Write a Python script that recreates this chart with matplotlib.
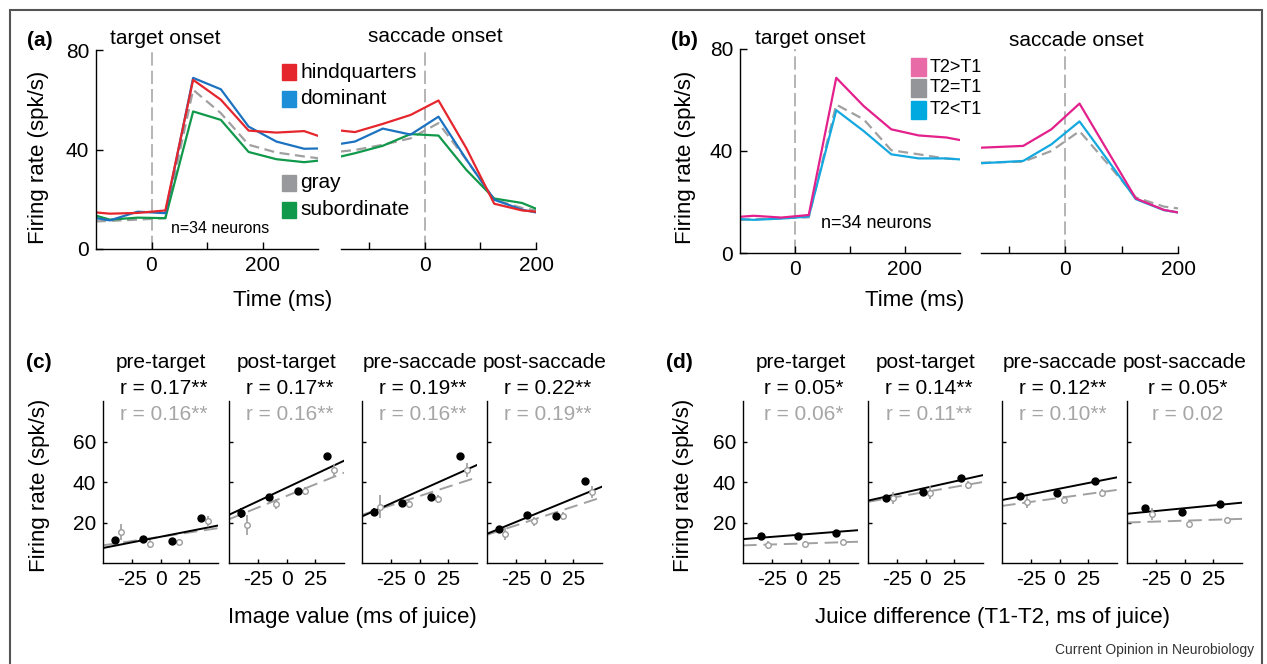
# Firing-rate figure: time courses (a, b) and value regressions (c, d)
import matplotlib
matplotlib.use('Agg')
import matplotlib.pyplot as plt
from matplotlib.patches import Rectangle

plt.rcParams['font.family'] = ['Liberation Sans', 'DejaVu Sans']

# ---------------- data ----------------
# time bins (ms) aligned on target onset / saccade onset
t_target = [-100, -75, -25, 25, 75, 125, 175, 225, 275, 300]
t_sacc_a = [-150, -125, -75, -25, 25, 75, 125, 175, 200]
t_sacc_b = [-150, -75, -25, 25, 75, 125, 175, 200]

# panel (a): image categories
hind_target = [14.7, 14.2, 14.5, 15.5, 68.0, 60.0, 47.6, 46.8, 47.4, 45.5]
dom_target = [12.4, 11.5, 15.0, 14.4, 68.8, 64.2, 49.2, 43.2, 40.3, 40.4]
gray_target = [11.1, 11.3, 11.8, 12.4, 64.0, 54.6, 41.9, 38.8, 37.2, 36.5]
sub_target = [13.4, 11.8, 12.6, 12.4, 55.3, 51.9, 39.0, 36.1, 34.9, 35.5]
hind_sacc = [47.6, 47.0, 50.3, 53.9, 59.7, 40.5, 18.2, 15.5, 15.0]
dom_sacc = [42.3, 43.2, 48.4, 46.0, 53.2, 36.0, 19.8, 15.8, 14.7]
gray_sacc = [39.2, 39.8, 41.9, 44.5, 50.6, 35.9, 19.8, 16.5, 15.5]
sub_sacc = [37.2, 38.5, 41.5, 46.2, 45.6, 31.8, 20.3, 18.5, 16.2]

# panel (b): juice comparison
big_target = [14.2, 14.6, 13.9, 14.9, 68.7, 57.6, 48.5, 46.1, 45.3, 44.3]
eq_target = [13.0, 13.2, 13.6, 14.0, 58.2, 52.4, 40.3, 38.7, 37.0, 36.7]
small_target = [13.3, 13.0, 13.5, 14.3, 56.0, 47.8, 38.7, 37.1, 37.1, 36.7]
big_sacc = [41.3, 42.0, 48.5, 58.6, 40.0, 21.4, 16.9, 15.9]
eq_sacc = [35.4, 35.8, 40.0, 47.8, 35.0, 21.8, 18.2, 17.5]
small_sacc = [35.2, 36.1, 42.6, 51.6, 36.5, 21.1, 16.8, 15.9]

epochs = ['pre-target', 'post-target', 'pre-saccade', 'post-saccade']
fit_x = [-50, 50]

# panel (c): image value
c_x_black = [-40, -15, 10, 35]
c_x_gray = [-34, -9, 16, 41]
c_black = [[11.5, 12.0, 11.0, 22.1], [24.6, 32.5, 35.7, 52.8],
           [25.4, 29.8, 32.8, 52.8], [16.9, 23.8, 23.3, 40.5]]
c_black_err = [[1, 1, 1, 1], [2.5, 1, 1, 1], [2, 1, 1, 1], [1, 1, 1, 1]]
c_gray = [[15.2, 9.5, 10.2, 20.5], [18.9, 29.2, 35.6, 45.9],
          [27.9, 29.2, 31.8, 45.9], [14.4, 20.5, 23.3, 34.9]]
c_gray_err = [[4, 2, 1.5, 2.5], [5, 2.5, 2, 3], [5.5, 2, 2, 3.5], [3, 2, 2, 3]]
c_fit_black = [[7.4, 18.5], [23.8, 50.5], [23.0, 48.4], [14.4, 37.7]]
c_fit_gray = [[8.7, 17.2], [21.6, 44.6], [23.8, 42.3], [13.9, 32.5]]
c_r_black = ['r = 0.17**', 'r = 0.17**', 'r = 0.19**', 'r = 0.22**']
c_r_gray = ['r = 0.16**', 'r = 0.16**', 'r = 0.16**', 'r = 0.19**']

# panel (d): juice difference
d_x_black = [-34, -2, 31]
d_x_gray = [-28, 4, 37]
d_black = [[13.1, 13.3, 14.9], [32.0, 35.2, 42.1], [33.1, 34.4, 40.7], [27.4, 25.2, 29.2]]
d_black_err = [[1, 1, 1], [1, 1, 1], [1, 1, 1], [1, 1, 1]]
d_gray = [[8.7, 9.3, 10.2], [32.0, 34.8, 38.4], [30.0, 31.1, 34.4], [24.3, 19.2, 21.3]]
d_gray_err = [[2, 1.5, 1.5], [3, 3, 2], [3, 2, 2], [3, 1.5, 1.5]]
d_fit_black = [[11.8, 16.2], [30.8, 43.4], [31.1, 42.3], [24.3, 29.8]]
d_fit_gray = [[8.7, 10.5], [30.2, 40.0], [28.2, 36.1], [20.0, 21.8]]
d_r_black = ['r = 0.05*', 'r = 0.14**', 'r = 0.12**', 'r = 0.05*']
d_r_gray = ['r = 0.06*', 'r = 0.11**', 'r = 0.10**', 'r = 0.02']

# colours
RED, BLUE, GREEN, GRAY = '#e5262d', '#1b72c0', '#10994a', '#a0a0a0'
PINK, PINK_SQ, CYAN = '#e3208b', '#e86aa6', '#14a8e0'
DOT_GRAY = '#9c9c9c'

W, H = 1267, 664
fig = plt.figure(figsize=(W / 100, H / 100), dpi=100)


def add_ax(x0, x1, y0, y1):
    # axes box given in pixels of the reference picture
    return fig.add_axes([x0 / W, 1 - y1 / H, (x1 - x0) / W, (y1 - y0) / H])


def ftext(x, y, s, **kw):
    fig.text(x / W, 1 - y / H, s, **kw)


def style(ax, ticklen):
    for side in ['top', 'right']:
        ax.spines[side].set_visible(False)
    for side in ['left', 'bottom']:
        ax.spines[side].set_linewidth(1.0)
    ax.tick_params(direction='in', length=ticklen, width=1.0, labelsize=15, pad=5)
    ax.set_facecolor('none')


def square(x, y, w, h, color):
    fig.patches.append(Rectangle((x / W, 1 - (y + h / 2) / H), w / W, h / H,
                                 transform=fig.transFigure, color=color))


# outer frame
fig.patches.append(Rectangle((10 / W, -0.02), 1252 / W, 1 - 10 / H + 0.02,
                             transform=fig.transFigure, fill=False,
                             edgecolor='#555555', linewidth=1.5))


def time_panel(box_l, box_r, y0, y1, t_l, t_r, curves):
    axl = add_ax(box_l[0], box_l[1], y0, y1)
    axr = add_ax(box_r[0], box_r[1], y0, y1)
    for yl, yr, col, dashed in curves:
        ls = (0, (4.5, 2.5)) if dashed else '-'
        axl.plot(t_l, yl, color=col, lw=1.6, linestyle=ls)
        axr.plot(t_r, yr, color=col, lw=1.6, linestyle=ls)
    for ax in (axl, axr):
        style(ax, 5)
        ax.set_ylim(0, 80)
        ax.axvline(0, color='#a8a8a8', lw=1.2, linestyle=(0, (8, 3)), zorder=0)
    axl.set_xlim(-100, 300)
    axl.set_xticks([0, 100, 200])
    axl.set_xticklabels(['0', '', '200'])
    axl.set_yticks([0, 40, 80])
    axr.set_xlim(-150, 200)
    axr.set_xticks([-100, 0, 100, 200])
    axr.set_xticklabels(['', '0', '', '200'])
    axr.spines['left'].set_visible(False)
    axr.set_yticks([])
    return axl, axr


# ---------------- panel (a) ----------------
time_panel((96, 318), (341, 536), 50, 249, t_target, t_sacc_a,
           [(gray_target, gray_sacc, GRAY, True),
            (sub_target, sub_sacc, GREEN, False),
            (dom_target, dom_sacc, BLUE, False),
            (hind_target, hind_sacc, RED, False)])
ftext(27, 40, '(a)', fontsize=15, fontweight='bold', va='center')
ftext(165, 39, 'target onset', fontsize=15, ha='center', va='center')
ftext(435, 36, 'saccade onset', fontsize=15, ha='center', va='center')
ftext(39, 157, 'Firing rate (spk/s)', fontsize=16, rotation=90, ha='center', va='center')
ftext(283, 300, 'Time (ms)', fontsize=16, ha='center', va='center')
ftext(171, 228, 'n=34 neurons', fontsize=11.5, va='center')
for lab, col, yy in [('hindquarters', RED, 72), ('dominant', '#1d8fd8', 99),
                     ('gray', '#98999c', 183), ('subordinate', GREEN, 210)]:
    square(282, yy, 14, 16, col)
    ftext(300, yy, lab, fontsize=15, va='center')

# ---------------- panel (b) ----------------
time_panel((740, 960), (981, 1178), 49, 253, t_target, t_sacc_b,
           [(eq_target, eq_sacc, GRAY, True),
            (small_target, small_sacc, CYAN, False),
            (big_target, big_sacc, PINK, False)])
ftext(671, 40, '(b)', fontsize=15, fontweight='bold', va='center')
ftext(810, 39, 'target onset', fontsize=15, ha='center', va='center')
ftext(1076, 40, 'saccade onset', fontsize=15, ha='center', va='center')
ftext(686, 157, 'Firing rate (spk/s)', fontsize=16, rotation=90, ha='center', va='center')
ftext(915, 300, 'Time (ms)', fontsize=16, ha='center', va='center')
ftext(821, 223, 'n=34 neurons', fontsize=13, va='center')
for lab, col, yy in [('T2>T1', PINK_SQ, 67), ('T2=T1', '#939598', 88), ('T2<T1', '#00a9e0', 110)]:
    square(911, yy, 15, 18, col)
    ftext(930, yy, lab, fontsize=13, va='center')


# ---------------- panels (c) and (d) ----------------
def scatter_row(lefts, width, xb, xg, black, black_err, gray, gray_err,
                fit_b, fit_g, r_b, r_g):
    for i, x0 in enumerate(lefts):
        ax = add_ax(x0, x0 + width, 401, 563)
        style(ax, 3)
        ax.plot(fit_x, fit_g[i], color=GRAY, lw=1.4, linestyle=(0, (7, 3.5)))
        ax.plot(fit_x, fit_b[i], color='black', lw=1.4)
        ax.errorbar(xg, gray[i], yerr=gray_err[i], fmt='o', color=DOT_GRAY,
                    mfc='white', mec=DOT_GRAY, ms=4, mew=1, elinewidth=1.2, capsize=0)
        ax.errorbar(xb, black[i], yerr=black_err[i], fmt='o', color='black',
                    ms=5, elinewidth=1.2, capsize=0)
        ax.set_xlim(-50, 50)
        ax.set_ylim(0, 80)
        ax.set_xticks([-25, 0, 25])
        ax.set_xticklabels(['-25', '0', '25'])
        ax.set_yticks([20, 40, 60])
        if i > 0:
            ax.set_yticklabels([])
        cx = x0 + width / 2
        ftext(cx, 362, epochs[i], fontsize=15, ha='center', va='center')
        ftext(cx + 3, 388, r_b[i], fontsize=15, ha='center', va='center')
        ftext(cx + 3, 415, r_g[i], fontsize=15, ha='center', va='center', color='#a6a6a6')


scatter_row([103, 229, 362, 487], 115, c_x_black, c_x_gray, c_black, c_black_err,
            c_gray, c_gray_err, c_fit_black, c_fit_gray, c_r_black, c_r_gray)
ftext(26, 362, '(c)', fontsize=15, fontweight='bold', va='center')
ftext(40, 485, 'Firing rate (spk/s)', fontsize=16, rotation=90, ha='center', va='center')
ftext(352, 618, 'Image value (ms of juice)', fontsize=16, ha='center', va='center')

scatter_row([743, 868, 1002, 1127], 115, d_x_black, d_x_gray, d_black, d_black_err,
            d_gray, d_gray_err, d_fit_black, d_fit_gray, d_r_black, d_r_gray)
ftext(666, 362, '(d)', fontsize=15, fontweight='bold', va='center')
ftext(683, 485, 'Firing rate (spk/s)', fontsize=16, rotation=90, ha='center', va='center')
ftext(992, 618, 'Juice difference (T1-T2, ms of juice)', fontsize=16, ha='center', va='center')

ftext(1254, 650, 'Current Opinion in Neurobiology', fontsize=10, ha='right',
      va='center', color='#333333')

fig.savefig('out.png', dpi=100)
